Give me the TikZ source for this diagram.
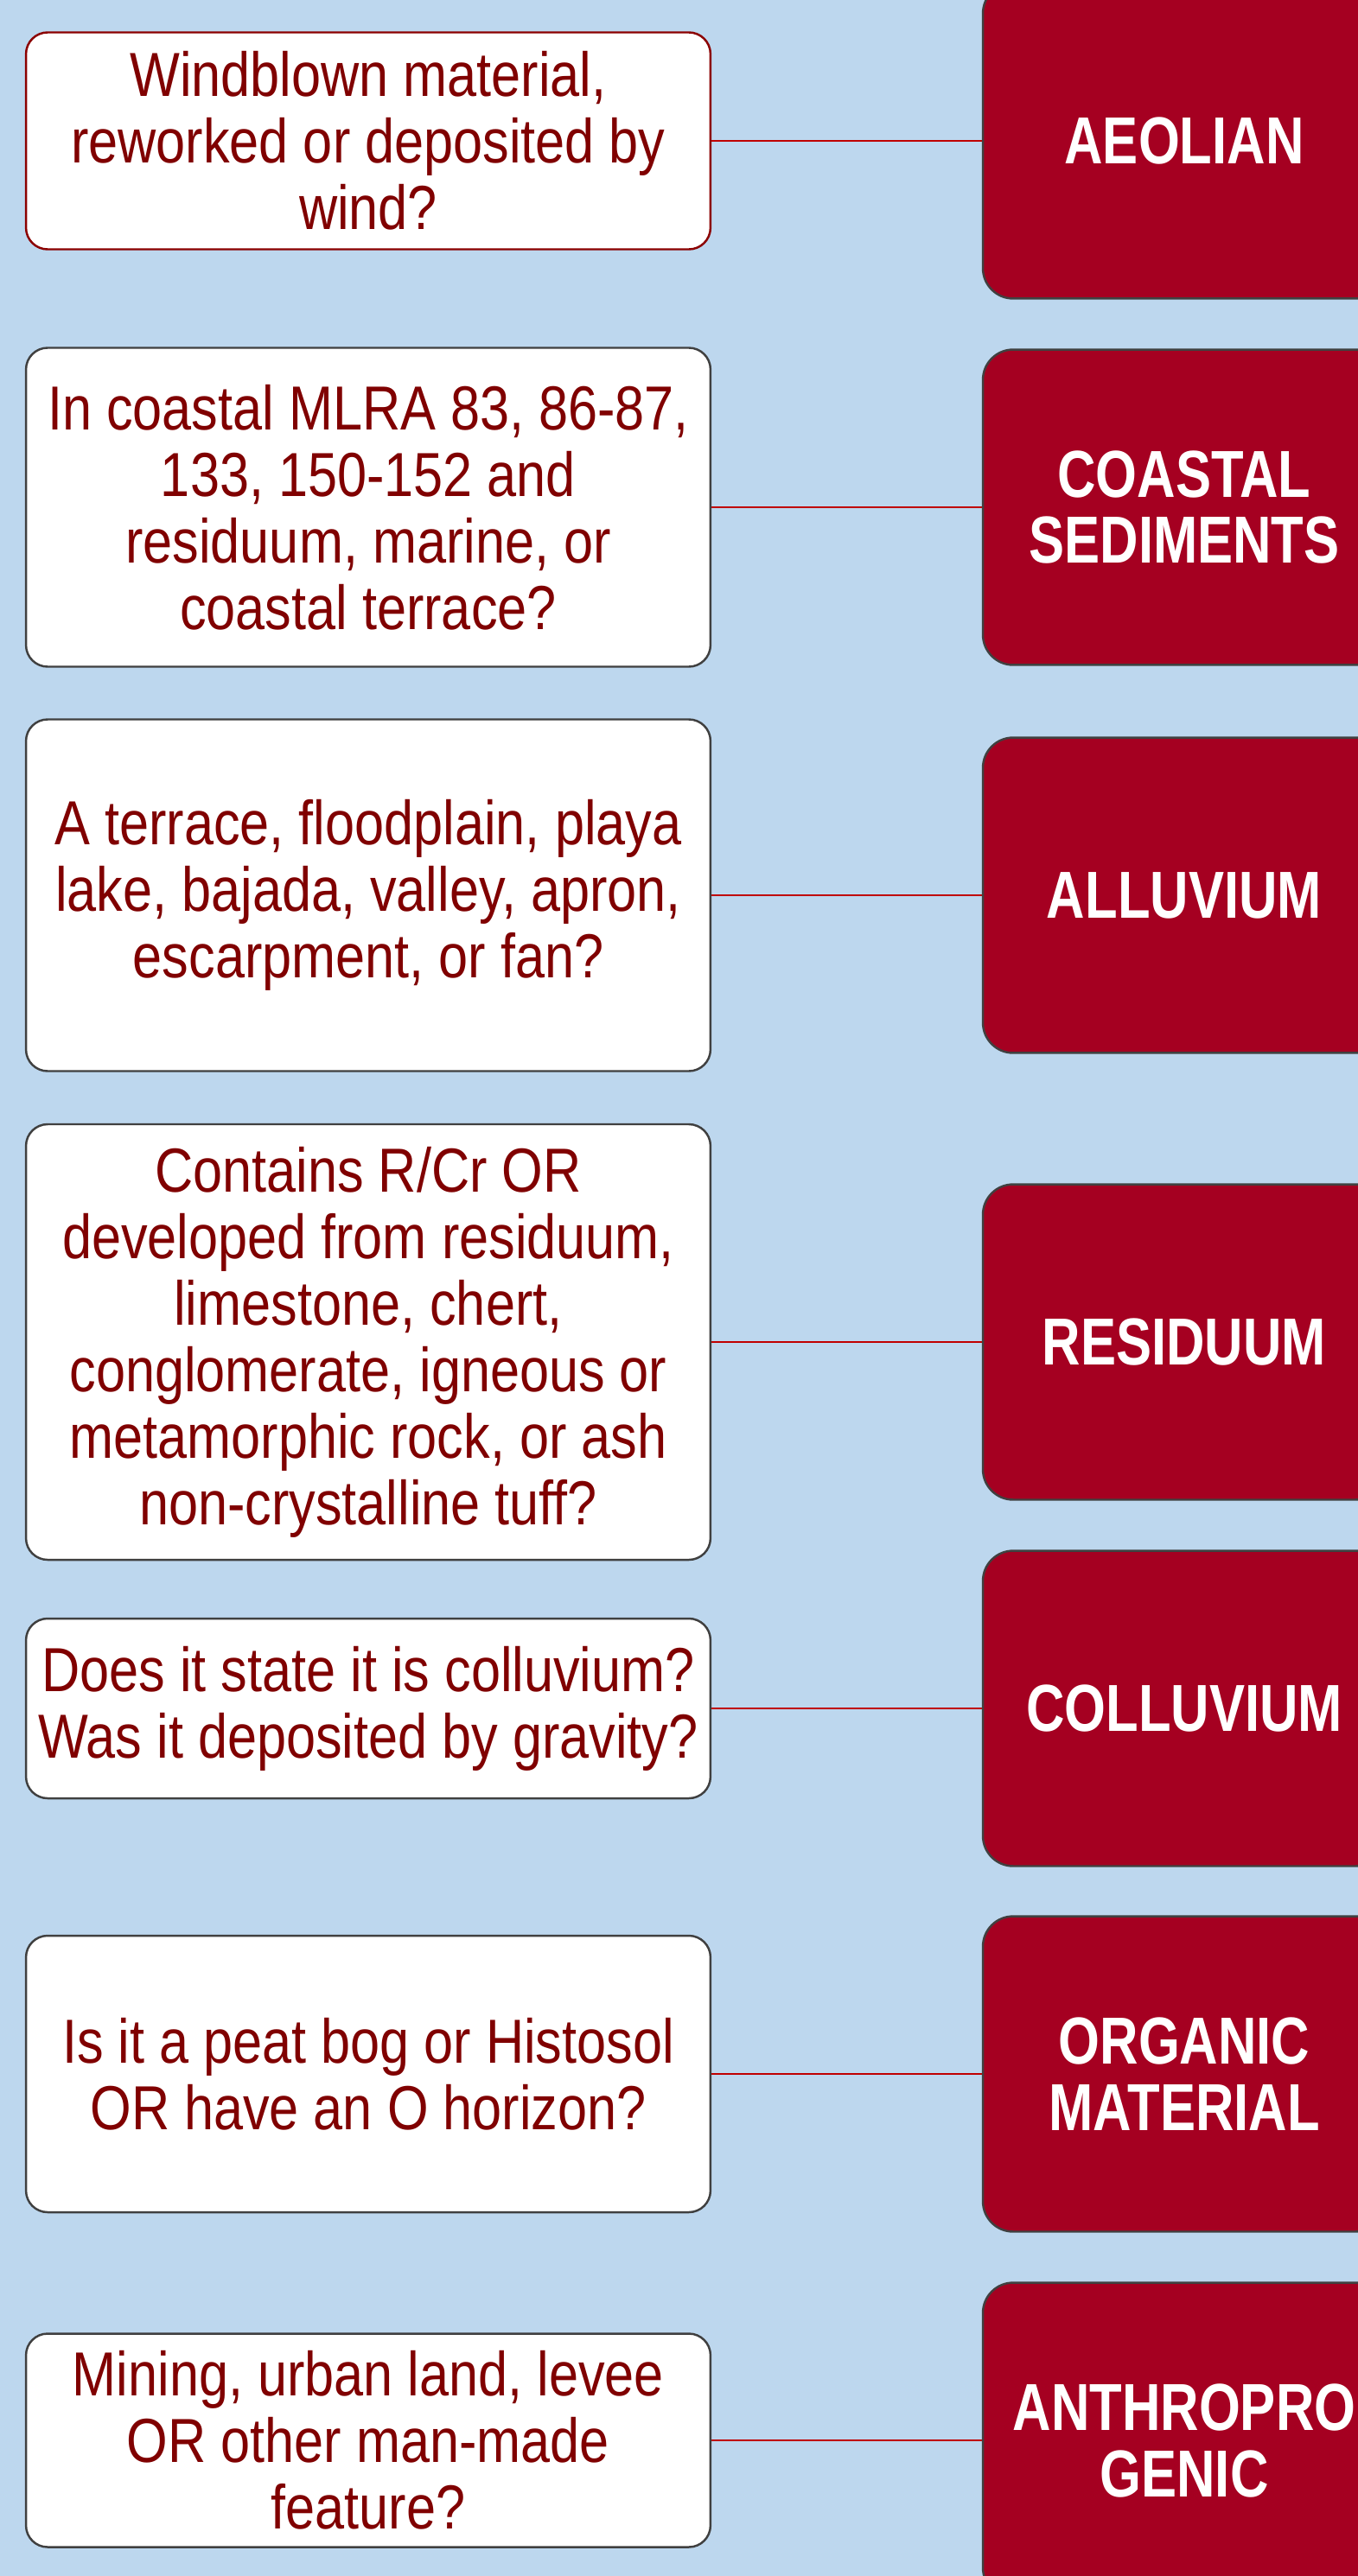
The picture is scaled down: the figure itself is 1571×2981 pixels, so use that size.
\documentclass[tikz,border=0pt]{standalone}
\usepackage{fontspec}
\setmainfont{Liberation Sans}[FakeStretch=0.85]
\newfontfamily\tagfont{Liberation Sans}[FakeStretch=0.8]

\definecolor{bgblue}{RGB}{189,215,238}
\definecolor{answerred}{RGB}{165,0,33}
\definecolor{qred}{RGB}{128,0,0}
\definecolor{linkred}{RGB}{192,0,0}
\definecolor{boxgray}{RGB}{64,64,64}
\definecolor{boxred}{RGB}{139,0,0}

\begin{document}
\begin{tikzpicture}[x=0.02cm, y=-0.02cm,
    question/.style={fill=white, line width=1.4pt, rounded corners=0.5cm,
        minimum width=15.84cm, inner sep=0pt, align=center, text=qred,
        font=\fontsize{41}{43.8}\selectfont},
    answer/.style={draw=boxgray, fill=answerred, line width=1.4pt,
        rounded corners=0.7cm, minimum width=9.32cm, minimum height=7.3cm,
        align=center, text=white, font=\tagfont\bfseries\fontsize{43.8}{43.8}\selectfont},
    link/.style={draw=linkred, line width=1.4pt}]
    \useasboundingbox (0,0) rectangle (1571,2981);
    \clip (0,0) rectangle (1571,2981);
    \fill [color=bgblue] (0,0) rectangle (1571,2981);

    \foreach \n/\y/\h/\c/\q/\t in {
        1/163/251/boxred/{Windblown material,\\ reworked or deposited by\\ wind?}/AEOLIAN,
        2/587/369/boxgray/{In coastal MLRA 83, 86-87,\\ 133, 150-152 and\\ residuum, marine, or\\ coastal terrace?}/{COASTAL\\ SEDIMENTS},
        3/1036/407/boxgray/{A terrace, floodplain, playa\\ lake, bajada, valley, apron,\\ escarpment, or fan?}/ALLUVIUM,
        4/1553/504/boxgray/{Contains R/Cr OR\\ developed from residuum,\\ limestone, chert,\\ conglomerate, igneous or\\ metamorphic rock, or ash\\ non-crystalline tuff?}/RESIDUUM,
        5/1977/208/boxgray/{Does it state it is colluvium?\\ Was it deposited by gravity?}/COLLUVIUM,
        6/2400/320/boxgray/{Is it a peat bog or Histosol\\ OR have an O horizon?}/{ORGANIC\\ MATERIAL},
        7/2824/247/boxgray/{Mining, urban land, levee\\ OR other man-made\\ feature?}/{ANTHROPRO\\ GENIC}}
    {
        \node [question, draw=\c, minimum height=\h*0.02cm] (q\n) at (426,\y) {\q};
        \node [answer] (t\n) at (1370,\y) {\t};
        \draw [link] (q\n.east) -- (t\n.west);
    }
\end{tikzpicture}
\end{document}
